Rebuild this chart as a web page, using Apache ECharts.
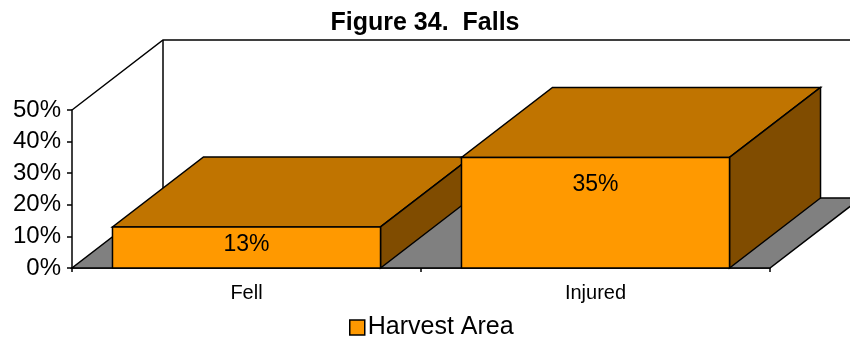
<!DOCTYPE html>
<html>
<head>
<meta charset="utf-8">
<script src="https://cdn.jsdelivr.net/npm/echarts@6/dist/echarts.min.js"></script>
<style>
  html, body { margin: 0; padding: 0; background: #fff; }
  #chart { width: 850px; height: 339px; }
</style>
</head>
<body>
<div id="chart"></div>
<script>
// Chart data
const categories = ['Fell', 'Injured'];
const harvestArea = [0.13, 0.35];
const seriesName = 'Harvest Area';
const yMin = 0;
const yMax = 0.5;
const yStep = 0.1;

// 3D look: depth offset of the box faces and back walls
const DEPTH_X = 91;
const DEPTH_Y = -70;
const BAR_FRACTION = 0.768;
const FONT = '"Liberation Sans", Arial, sans-serif';
const EDGE = { stroke: '#000', lineWidth: 1.5 };

const chart = echarts.init(document.getElementById('chart'), null, { renderer: 'canvas' });

// Floor and back walls of the plot box
function renderWalls(params, api) {
  const cs = params.coordSys;
  const x = cs.x, y = cs.y, w = cs.width, h = cs.height;
  const yb = y + h;
  return {
    type: 'group',
    children: [
      {
        type: 'polygon',
        shape: { points: [[x, yb], [x + w, yb], [x + w + DEPTH_X, yb + DEPTH_Y], [x + DEPTH_X, yb + DEPTH_Y]] },
        style: Object.assign({ fill: '#808080' }, EDGE)
      },
      {
        type: 'polyline',
        shape: { points: [[x, y], [x + DEPTH_X, y + DEPTH_Y], [x + w + DEPTH_X + 40, y + DEPTH_Y]] },
        style: Object.assign({ fill: null }, EDGE)
      },
      {
        type: 'line',
        shape: { x1: x + DEPTH_X, y1: y + DEPTH_Y, x2: x + DEPTH_X, y2: yb + DEPTH_Y },
        style: EDGE
      }
    ]
  };
}

// One box per category: front, top and right side faces plus its value label
function renderBar(params, api) {
  const idx = api.value(0);
  const v = api.value(1);
  const base = api.coord([idx, 0]);
  const top = api.coord([idx, v]);
  const band = api.size([1, 0])[0];
  const w = band * BAR_FRACTION;
  const x0 = base[0] - w / 2, x1 = base[0] + w / 2;
  const yb = base[1], yt = top[1];
  const hgt = yb - yt;
  return {
    type: 'group',
    children: [
      {
        type: 'polygon',
        shape: { points: [[x0, yt], [x1, yt], [x1 + DEPTH_X, yt + DEPTH_Y], [x0 + DEPTH_X, yt + DEPTH_Y]] },
        style: Object.assign({ fill: '#C07400' }, EDGE)
      },
      {
        type: 'polygon',
        shape: { points: [[x1, yt], [x1 + DEPTH_X, yt + DEPTH_Y], [x1 + DEPTH_X, yb + DEPTH_Y], [x1, yb]] },
        style: Object.assign({ fill: '#804C00' }, EDGE)
      },
      {
        type: 'rect',
        shape: { x: x0, y: yt, width: w, height: hgt },
        style: Object.assign({ fill: '#FF9900' }, EDGE)
      },
      {
        type: 'text',
        style: {
          text: Math.round(v * 100) + '%',
          x: base[0],
          y: yt + 12 + 0.14 * hgt,
          align: 'center',
          verticalAlign: 'middle',
          fill: '#000',
          font: '23px ' + FONT
        }
      }
    ]
  };
}

const option = {
  animation: false,
  backgroundColor: '#fff',
  title: {
    text: 'Figure 34.  Falls',
    left: 'center',
    top: 6,
    textStyle: { fontFamily: FONT, fontWeight: 'bold', fontSize: 25, color: '#000' }
  },
  legend: {
    data: [seriesName],
    left: 344,
    top: 310,
    icon: 'rect',
    itemWidth: 15,
    itemHeight: 15,
    itemGap: 6,
    itemStyle: { color: '#FF9900', borderColor: '#000', borderWidth: 1.5 },
    textStyle: { fontFamily: FONT, fontSize: 25, color: '#000', padding: [0, 0, 0, -2] }
  },
  grid: { left: 72, right: 80, top: 110, bottom: 71, containLabel: false },
  xAxis: {
    type: 'category',
    data: categories,
    boundaryGap: true,
    axisLine: { lineStyle: { color: '#000', width: 1.5 } },
    axisTick: { show: true, length: 4, lineStyle: { color: '#000', width: 1.5 } },
    axisLabel: { color: '#000', fontFamily: FONT, fontSize: 20, margin: 15 },
    splitLine: { show: false }
  },
  yAxis: {
    type: 'value',
    min: yMin,
    max: yMax,
    interval: yStep,
    axisLine: { show: true, lineStyle: { color: '#000', width: 1.5 } },
    axisTick: { show: true, length: 5, lineStyle: { color: '#000', width: 1.5 } },
    axisLabel: {
      color: '#000', fontFamily: FONT, fontSize: 24, margin: 11,
      formatter: function (val) { return Math.round(val * 100) + '%'; }
    },
    splitLine: { show: false }
  },
  series: [
    {
      type: 'custom',
      name: 'walls',
      renderItem: renderWalls,
      data: [[0, 0]],
      silent: true,
      z: 1
    },
    {
      type: 'custom',
      name: seriesName,
      renderItem: renderBar,
      itemStyle: { color: '#FF9900' },
      encode: { x: 0, y: 1 },
      data: categories.map(function (c, i) { return [i, harvestArea[i]]; }),
      z: 2
    }
  ]
};

chart.setOption(option);
</script>
</body>
</html>
